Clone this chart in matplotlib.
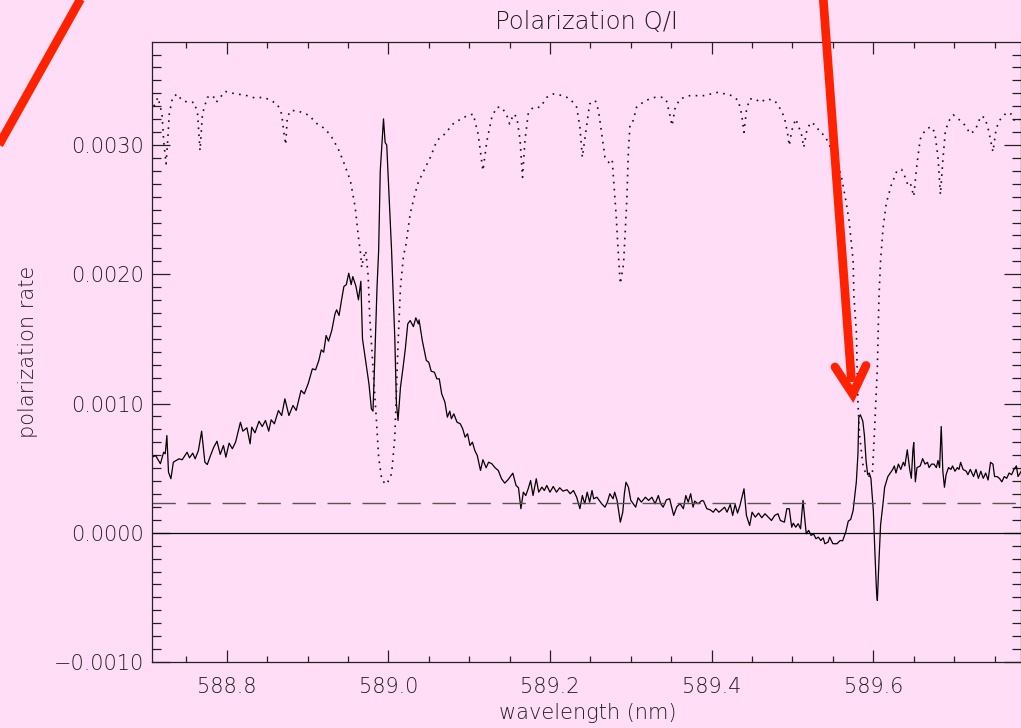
import numpy as np
import matplotlib.pyplot as plt
from matplotlib.lines import Line2D
from matplotlib.ticker import MultipleLocator, FuncFormatter

W, H = 1021, 728
bg = '#ffddf7'
red = '#ff2200'

# Q/I polarization rate, values in units of 1e-3
qi_wl = [588.708, 588.712, 588.718, 588.722, 588.724, 588.726, 588.728, 588.731, 588.734, 588.741,
         588.745, 588.751, 588.754, 588.758, 588.761, 588.765, 588.769, 588.773, 588.776, 588.780,
         588.784, 588.788, 588.792, 588.796, 588.799, 588.803, 588.807, 588.811, 588.814, 588.817,
         588.820, 588.825, 588.829, 588.831, 588.835, 588.840, 588.844, 588.848, 588.852, 588.855,
         588.859, 588.864, 588.868, 588.872, 588.877, 588.882, 588.886, 588.892, 588.896, 588.901,
         588.906, 588.910, 588.914, 588.917, 588.920, 588.923, 588.926, 588.930, 588.934, 588.936,
         588.939, 588.942, 588.945, 588.948, 588.951, 588.954, 588.956, 588.960, 588.963, 588.966,
         588.968, 588.971, 588.976, 588.979, 588.981, 588.983, 588.986, 588.988, 588.990, 588.993,
         588.994, 588.996, 588.998, 589.001, 589.004, 589.008, 589.010, 589.012, 589.015, 589.018,
         589.021, 589.024, 589.027, 589.031, 589.034, 589.037, 589.038, 589.042, 589.047, 589.050,
         589.053, 589.057, 589.060, 589.063, 589.066, 589.070, 589.073, 589.076, 589.078, 589.081,
         589.085, 589.089, 589.092, 589.095, 589.098, 589.101, 589.104, 589.107, 589.110, 589.114,
         589.117, 589.121, 589.124, 589.128, 589.132, 589.136, 589.140, 589.144, 589.148, 589.154,
         589.158, 589.161, 589.164, 589.167, 589.170, 589.173, 589.176, 589.179, 589.183, 589.186,
         589.190, 589.193, 589.196, 589.200, 589.204, 589.208, 589.212, 589.216, 589.221, 589.225,
         589.229, 589.233, 589.237, 589.240, 589.243, 589.246, 589.249, 589.252, 589.254, 589.258,
         589.261, 589.264, 589.268, 589.271, 589.274, 589.278, 589.280, 589.283, 589.287, 589.290,
         589.292, 589.294, 589.297, 589.300, 589.303, 589.306, 589.309, 589.313, 589.318, 589.322,
         589.326, 589.330, 589.334, 589.337, 589.340, 589.344, 589.348, 589.353, 589.357, 589.361,
         589.365, 589.368, 589.371, 589.374, 589.377, 589.379, 589.383, 589.388, 589.390, 589.394,
         589.398, 589.402, 589.405, 589.409, 589.414, 589.416, 589.419, 589.423, 589.426, 589.429,
         589.432, 589.435, 589.440, 589.443, 589.447, 589.450, 589.454, 589.458, 589.462, 589.466,
         589.470, 589.474, 589.478, 589.482, 589.485, 589.490, 589.493, 589.496, 589.499, 589.501,
         589.504, 589.507, 589.510, 589.513, 589.517, 589.520, 589.523, 589.526, 589.529, 589.532,
         589.535, 589.538, 589.540, 589.544, 589.546, 589.550, 589.555, 589.559, 589.562, 589.566,
         589.569, 589.572, 589.575, 589.577, 589.579, 589.581, 589.582, 589.584, 589.587, 589.589,
         589.591, 589.593, 589.595, 589.597, 589.600, 589.602, 589.604, 589.605, 589.607, 589.609,
         589.612, 589.614, 589.618, 589.621, 589.624, 589.626, 589.628, 589.631, 589.634, 589.637,
         589.639, 589.642, 589.645, 589.647, 589.649, 589.650, 589.652, 589.654, 589.658, 589.661,
         589.664, 589.667, 589.669, 589.672, 589.675, 589.678, 589.680, 589.682, 589.684, 589.686,
         589.688, 589.690, 589.693, 589.696, 589.698, 589.701, 589.704, 589.706, 589.708, 589.711,
         589.715, 589.717, 589.720, 589.724, 589.727, 589.730, 589.733, 589.736, 589.739, 589.742,
         589.745, 589.748, 589.750, 589.753, 589.756, 589.759, 589.762, 589.765, 589.768, 589.771,
         589.774, 589.777, 589.779, 589.783]
qi_val = [0.585, 0.598, 0.534, 0.623, 0.611, 0.752, 0.469, 0.418, 0.546, 0.572,
          0.565, 0.623, 0.580, 0.616, 0.572, 0.636, 0.786, 0.546, 0.528, 0.598,
          0.662, 0.708, 0.606, 0.675, 0.585, 0.693, 0.650, 0.701, 0.778, 0.855,
          0.786, 0.812, 0.688, 0.817, 0.773, 0.863, 0.822, 0.869, 0.786, 0.874,
          0.843, 0.946, 0.907, 1.036, 0.907, 0.985, 0.946, 1.101, 1.075, 1.157,
          1.268, 1.261, 1.333, 1.415, 1.397, 1.526, 1.482, 1.565, 1.694, 1.725,
          1.681, 1.797, 1.905, 1.920, 2.008, 1.920, 1.982, 1.905, 1.802, 1.946,
          1.500, 1.371, 1.152, 0.959, 0.941, 1.307, 1.900, 2.183, 2.800, 3.100,
          3.202, 3.020, 3.000, 2.600, 2.183, 1.500, 1.000, 0.869, 1.126, 1.268,
          1.423, 1.616, 1.642, 1.595, 1.663, 1.616, 1.647, 1.487, 1.333, 1.319,
          1.250, 1.242, 1.191, 1.191, 1.075, 1.010, 0.894, 0.941, 0.882, 0.920,
          0.855, 0.843, 0.804, 0.739, 0.766, 0.675, 0.701, 0.636, 0.598, 0.482,
          0.565, 0.503, 0.546, 0.534, 0.503, 0.482, 0.418, 0.384, 0.410, 0.461,
          0.366, 0.348, 0.186, 0.314, 0.288, 0.340, 0.404, 0.288, 0.418, 0.314,
          0.353, 0.327, 0.366, 0.314, 0.358, 0.314, 0.348, 0.322, 0.333, 0.302,
          0.327, 0.275, 0.186, 0.288, 0.224, 0.314, 0.237, 0.327, 0.263, 0.275,
          0.250, 0.224, 0.198, 0.237, 0.302, 0.263, 0.314, 0.250, 0.082, 0.159,
          0.302, 0.391, 0.353, 0.250, 0.224, 0.198, 0.271, 0.237, 0.275, 0.250,
          0.275, 0.224, 0.288, 0.224, 0.198, 0.255, 0.263, 0.134, 0.203, 0.224,
          0.186, 0.288, 0.237, 0.302, 0.198, 0.245, 0.224, 0.250, 0.245, 0.186,
          0.178, 0.159, 0.186, 0.159, 0.186, 0.198, 0.159, 0.219, 0.134, 0.219,
          0.152, 0.211, 0.340, 0.134, 0.056, 0.159, 0.121, 0.152, 0.116, 0.147,
          0.121, 0.095, 0.134, 0.147, 0.095, 0.082, 0.186, 0.186, 0.043, 0.074,
          0.043, 0.070, 0.031, 0.250, -0.008, 0.018, -0.021, -0.008, -0.046, -0.034,
          -0.060, -0.039, -0.085, -0.073, -0.034, -0.085, -0.085, -0.060, -0.062, 0.007,
          0.090, 0.103, 0.172, 0.283, 0.394, 0.614, 0.892, 0.913, 0.863, 0.753,
          0.559, 0.449, 0.462, 0.421, 0.172, -0.159, -0.462, -0.524, -0.214, 0.062,
          0.227, 0.352, 0.435, 0.462, 0.490, 0.517, 0.462, 0.531, 0.490, 0.545,
          0.517, 0.642, 0.490, 0.421, 0.642, 0.698, 0.394, 0.504, 0.517, 0.573,
          0.531, 0.545, 0.504, 0.531, 0.531, 0.504, 0.559, 0.504, 0.822, 0.476,
          0.352, 0.449, 0.504, 0.490, 0.517, 0.476, 0.504, 0.490, 0.545, 0.490,
          0.476, 0.449, 0.490, 0.435, 0.490, 0.421, 0.476, 0.421, 0.462, 0.408,
          0.545, 0.531, 0.435, 0.435, 0.421, 0.394, 0.435, 0.421, 0.462, 0.449,
          0.490, 0.517, 0.435, 0.476]

# intensity profile drawn on the same scale, units of 1e-3
int_wl = [588.710, 588.715, 588.720, 588.722, 588.725, 588.727, 588.729, 588.733, 588.739, 588.744,
          588.752, 588.760, 588.764, 588.767, 588.770, 588.776, 588.783, 588.787, 588.792, 588.798,
          588.808, 588.825, 588.835, 588.845, 588.854, 588.863, 588.868, 588.871, 588.873, 588.875,
          588.879, 588.887, 588.896, 588.903, 588.909, 588.922, 588.930, 588.938, 588.944, 588.953,
          588.959, 588.963, 588.966, 588.967, 588.969, 588.972, 588.975, 588.977, 588.981, 588.985,
          588.988, 588.992, 588.998, 589.004, 589.008, 589.010, 589.012, 589.015, 589.019, 589.021,
          589.027, 589.033, 589.037, 589.043, 589.052, 589.060, 589.070, 589.080, 589.093, 589.105,
          589.111, 589.117, 589.122, 589.128, 589.134, 589.140, 589.146, 589.150, 589.155, 589.159,
          589.163, 589.166, 589.169, 589.173, 589.179, 589.188, 589.196, 589.204, 589.216, 589.225,
          589.233, 589.237, 589.240, 589.245, 589.249, 589.256, 589.260, 589.264, 589.268, 589.274,
          589.277, 589.279, 589.282, 589.284, 589.287, 589.291, 589.295, 589.297, 589.299, 589.303,
          589.307, 589.318, 589.330, 589.340, 589.344, 589.348, 589.351, 589.355, 589.361, 589.373,
          589.390, 589.408, 589.425, 589.433, 589.437, 589.440, 589.443, 589.447, 589.454, 589.460,
          589.468, 589.478, 589.485, 589.490, 589.494, 589.496, 589.499, 589.504, 589.508, 589.511,
          589.514, 589.518, 589.523, 589.529, 589.534, 589.540, 589.546, 589.555, 589.561, 589.566,
          589.570, 589.575, 589.576, 589.579, 589.580, 589.581, 589.583, 589.587, 589.591, 589.596,
          589.599, 589.601, 589.603, 589.605, 589.606, 589.607, 589.609, 589.612, 589.616, 589.622,
          589.629, 589.635, 589.639, 589.643, 589.646, 589.650, 589.654, 589.658, 589.664, 589.671,
          589.676, 589.680, 589.683, 589.686, 589.689, 589.693, 589.699, 589.706, 589.713, 589.720,
          589.726, 589.733, 589.738, 589.742, 589.748, 589.752, 589.757, 589.765, 589.771, 589.775,
          589.781]
int_val = [3.300, 3.369, 3.240, 3.034, 2.854, 3.034, 3.240, 3.369, 3.395, 3.349,
           3.330, 3.330, 3.240, 2.957, 3.240, 3.369, 3.382, 3.330, 3.369, 3.415,
           3.400, 3.382, 3.364, 3.369, 3.349, 3.312, 3.240, 3.086, 3.003, 3.214,
           3.266, 3.266, 3.245, 3.227, 3.176, 3.124, 3.060, 2.970, 2.879, 2.725,
           2.518, 2.286, 2.145, 2.052, 2.121, 2.183, 1.990, 1.667, 1.281, 0.894,
           0.585, 0.404, 0.374, 0.456, 0.739, 1.101, 1.462, 1.899, 2.158, 2.196,
           2.467, 2.622, 2.712, 2.789, 2.905, 3.034, 3.086, 3.163, 3.214, 3.240,
           3.086, 2.802, 3.034, 3.214, 3.292, 3.292, 3.240, 3.163, 3.240, 3.214,
           3.034, 2.750, 3.034, 3.240, 3.292, 3.292, 3.369, 3.395, 3.382, 3.357,
           3.292, 3.137, 2.905, 3.137, 3.318, 3.344, 3.266, 3.086, 2.905, 2.854,
           2.879, 2.699, 2.441, 2.209, 1.926, 2.080, 2.570, 2.957, 3.163, 3.189,
           3.292, 3.344, 3.369, 3.369, 3.344, 3.240, 3.150, 3.292, 3.357, 3.382,
           3.382, 3.408, 3.382, 3.344, 3.240, 3.098, 3.266, 3.357, 3.357, 3.330,
           3.357, 3.344, 3.279, 3.214, 3.086, 2.995, 3.111, 3.202, 3.137, 3.086,
           2.982, 3.124, 3.176, 3.150, 3.098, 3.073, 2.995, 2.879, 2.738, 2.570,
           2.415, 2.106, 1.830, 1.554, 1.278, 1.001, 0.753, 0.531, 0.449, 0.435,
           0.476, 0.725, 1.001, 1.278, 1.554, 1.830, 2.106, 2.354, 2.548, 2.686,
           2.797, 2.811, 2.756, 2.686, 2.700, 2.603, 2.852, 3.045, 3.114, 3.142,
           3.100, 2.907, 2.617, 2.879, 3.100, 3.183, 3.233, 3.197, 3.155, 3.087,
           3.114, 3.224, 3.211, 3.128, 2.948, 3.128, 3.197, 3.252, 3.238, 3.183,
           3.197]

dash_level = 0.232e-3


def fx(px):
    return px / W


def fy(py):
    return 1 - py / H


fig = plt.figure(figsize=(W / 100, H / 100), dpi=100, facecolor=bg)
ax = fig.add_axes([152 / W, 66 / H, (W - 152) / W, 620 / H])
ax.set_facecolor(bg)

ax.plot(qi_wl, np.array(qi_val) * 1e-3, color='black', lw=0.9)
ax.plot(int_wl, np.array(int_val) * 1e-3, color='#111111', lw=1.2, ls=(0, (1, 3.2)))
ax.axhline(0, color='black', lw=0.9)
ax.axhline(dash_level, color='#555555', lw=1.0, ls=(0, (16.8, 8.4)))

ax.set_xlim(588.7076, 589.7827)
ax.set_ylim(-0.001, 0.003797)

ax.xaxis.set_major_locator(MultipleLocator(0.2))
ax.xaxis.set_minor_locator(MultipleLocator(0.05))
ax.yaxis.set_major_locator(MultipleLocator(0.001))
ax.yaxis.set_minor_locator(MultipleLocator(0.0001))


def yfmt(v, pos):
    if abs(v) < 1e-12:
        v = 0.0
    return f'{v:.4f}'.replace('-', '\u2212')


ax.xaxis.set_major_formatter(FuncFormatter(lambda v, p: f'{v:.1f}'))
ax.yaxis.set_major_formatter(FuncFormatter(yfmt))

txt = '#202020'
ax.tick_params(which='both', direction='in', top=True, right=True,
               color='#222222', width=0.9, labelcolor=txt, labelsize=15)
ax.tick_params(axis='x', which='major', length=8.6, pad=11)
ax.tick_params(axis='x', which='minor', length=4.2)
ax.tick_params(axis='y', which='major', length=12.6, pad=5.8)
ax.tick_params(axis='y', which='minor', length=6.3)
for lab in ax.get_xticklabels() + ax.get_yticklabels():
    lab.set_fontweight('light')
for s in ax.spines.values():
    s.set_color('#222222')
    s.set_linewidth(0.9)

fig.text(fx(586.5), fy(29), 'Polarization Q/I', ha='center', va='baseline',
         fontsize=17.5, color=txt, fontweight='light')
fig.text(fx(588), fy(719), 'wavelength (nm)', ha='center', va='baseline',
         fontsize=15, color=txt, fontweight='light')
fig.text(fx(28), fy(352), 'polarization rate', ha='center', va='center',
         rotation=90, fontsize=15, color=txt, fontweight='light')

# red arrows drawn over the figure
fig.add_artist(Line2D([fx(-10), fx(85)], [fy(160.9), fy(-8.9)], color=red, lw=6.3,
                      solid_capstyle='butt'))
fig.add_artist(Line2D([fx(822.6), fx(851.6)], [fy(-10), fy(382)], color=red, lw=6.3,
                      solid_capstyle='butt'))
fig.add_artist(Line2D([fx(835), fx(852.7), fx(866)], [fy(367), fy(394), fy(365.5)],
                      color=red, lw=6.3, solid_capstyle='round', solid_joinstyle='miter'))

fig.savefig('out.png', dpi=100, facecolor=bg)
